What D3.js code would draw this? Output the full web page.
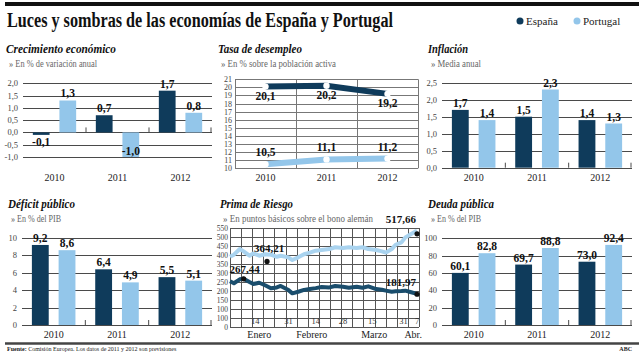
<!DOCTYPE html>
<html><head><meta charset="utf-8">
<script src="https://cdn.jsdelivr.net/npm/d3@7"></script>
<style>body{margin:0;background:#fff}svg{display:block}</style>
</head><body><svg id="c" width="644" height="362"></svg>
<script>
// ---------- DATA ----------
const years = ["2010", "2011", "2012"];
const series = ["España", "Portugal"];

const crecEsp = [-0.1, 0.7, 1.7];
const crecPor = [1.3, -1.0, 0.8];
const crecTicks = [-1.0, -0.5, 0.0, 0.5, 1.0, 1.5, 2.0];

const paroEsp = [20.1, 20.2, 19.2];
const paroPor = [10.5, 11.1, 11.2];
const paroTicks = [10, 11, 12, 13, 14, 15, 16, 17, 18, 19, 20, 21];

const inflEsp = [1.7, 1.5, 1.4];
const inflPor = [1.4, 2.3, 1.3];
const inflTicks = [0.0, 0.5, 1.0, 1.5, 2.0, 2.5];

const defEsp = [9.2, 6.4, 5.5];
const defPor = [8.6, 4.9, 5.1];
const defTicks = [0, 2, 4, 6, 8, 10];

const deudaEsp = [60.1, 69.7, 73.0];
const deudaPor = [82.8, 88.8, 92.4];
const deudaTicks = [0, 20, 40, 60, 80, 100];

const primaDates = ["2011-01-01","2011-01-03","2011-01-06","2011-01-08","2011-01-11","2011-01-13","2011-01-16","2011-01-19","2011-01-22","2011-01-25","2011-01-27","2011-01-31","2011-02-02","2011-02-05","2011-02-08","2011-02-11","2011-02-14","2011-02-17","2011-02-21","2011-02-24","2011-02-28","2011-03-03","2011-03-07","2011-03-10","2011-03-13","2011-03-17","2011-03-20","2011-03-22","2011-03-25","2011-03-27","2011-03-30","2011-04-01","2011-04-04","2011-04-06","2011-04-07"];
const primaPor = [390,402,433,420,396,409,396,404,402,390,396,387,372,387,404,413,424,428,433,443,439,443,439,443,433,428,420,413,433,457,470,498,517,530,535];
const primaEsp = [254,243,265,268,250,239,246,232,215,220,228,205,187,196,206,211,216,222,220,228,224,218,224,218,226,211,207,202,196,198,200,202,193,187,182];
const primaTicks = [0, 50, 100, 150, 200, 250, 300, 350, 400, 450, 500, 550];
const primaTickLabels = ["0", "100", "100", "150", "200", "250", "300", "350", "400", "450", "500", "550"];
const primaDayDates = ["2011-01-14","2011-01-31","2011-02-14","2011-02-28","2011-03-15","2011-03-31","2011-04-07"];
const primaDayLabels = ["14", "31", "14", "28", "15", "31", "7"];
const primaMonthDates = ["2011-01-16","2011-02-12","2011-03-16","2011-04-05"];
const primaMonthLabels = ["Enero", "Febrero", "Marzo", "Abr."];
const primaMarkDates = ["2011-01-08","2011-01-20","2011-04-07","2011-04-07"];
const primaMarkValues = [267.44, 364.21, 517.66, 181.97];

// ---------- STYLE ----------
const C_ESP = "#0f3b5b", C_POR = "#93c6ea";
const SERIF = "'Liberation Serif', 'DejaVu Serif', serif";
const GRID = "#4a4a4a";
const loc = d3.formatLocale({decimal: ",", thousands: ".", grouping: [3], currency: ["", "€"], minus: "-"});
const f1 = loc.format(".1f"), f0 = loc.format(".0f"), f2 = loc.format(".2f");
const parse = d3.utcParse("%Y-%m-%d");

const svg = d3.select("#c");
svg.append("rect").attr("width", 644).attr("height", 362).attr("fill", "#fff");

function fit(sel, w) { return sel.attr("textLength", w).attr("lengthAdjust", "spacingAndGlyphs"); }

// header
svg.append("rect").attr("x", 5).attr("y", 2).attr("width", 634).attr("height", 4).attr("fill", "#111");
fit(svg.append("text").attr("x", 7).attr("y", 27).attr("font-family", SERIF).attr("font-size", 20)
  .attr("font-weight", "bold").attr("fill", "#111").text("Luces y sombras de las economías de España y Portugal"), 386);
const legX = [520, 577];
series.forEach((s, i) => {
  svg.append("circle").attr("cx", legX[i]).attr("cy", 21).attr("r", 3.5).attr("fill", i ? C_POR : C_ESP);
  svg.append("text").attr("x", legX[i] + 6).attr("y", 25).attr("font-family", SERIF).attr("font-size", 11)
    .attr("fill", "#222").text(s);
});

function panelHead(x, y, title, tw, sub, sw) {
  fit(svg.append("text").attr("x", x).attr("y", y).attr("font-family", SERIF).attr("font-size", 13.5)
    .attr("font-weight", "bold").attr("font-style", "italic").attr("fill", "#111").text(title), tw);
  fit(svg.append("text").attr("x", x + 3).attr("y", y + 13.5).attr("font-family", SERIF).attr("font-size", 9.5)
    .attr("fill", "#666").text("» " + sub), sw);
}

function barPanel(cfg) {
  const g = svg.append("g");
  const x = d3.scaleBand().domain(years).range([cfg.x0, cfg.x1]);
  const xi = d3.scaleBand().domain(series).range([0, x.bandwidth()]).paddingInner(0.37).paddingOuter(0.37);
  const y = d3.scaleLinear().domain(cfg.domain).range([cfg.yBot, cfg.yTop]);
  g.selectAll(".gl").data(cfg.ticks).join("line")
    .attr("x1", cfg.x0).attr("x2", cfg.x1).attr("y1", d => Math.round(y(d)) + 0.5).attr("y2", d => Math.round(y(d)) + 0.5)
    .attr("stroke", GRID).attr("stroke-width", 1);
  g.selectAll(".tl").data(cfg.ticks).join("text")
    .attr("x", cfg.x0 - 5).attr("y", d => y(d) + 3).attr("text-anchor", "end")
    .attr("font-family", SERIF).attr("font-size", 8.5).attr("fill", "#444").text(cfg.fmt);
  const data = years.flatMap((yr, i) => [{yr, s: "España", v: cfg.esp[i]}, {yr, s: "Portugal", v: cfg.por[i]}]);
  g.selectAll(".bar").data(data).join("rect")
    .attr("x", d => x(d.yr) + xi(d.s)).attr("width", xi.bandwidth())
    .attr("y", d => y(Math.max(0, d.v))).attr("height", d => Math.abs(y(d.v) - y(0)))
    .attr("fill", d => d.s === "España" ? C_ESP : C_POR);
  g.selectAll(".bt").data(years.slice(1).map(yr => x(yr)).concat([cfg.x1 - 1])).join("line")
    .attr("x1", d => d).attr("x2", d => d).attr("y1", y(0)).attr("y2", y(0) - 5)
    .attr("stroke", GRID).attr("stroke-width", 1);
  g.selectAll(".vl").data(data).join("text")
    .attr("x", d => x(d.yr) + xi(d.s) + xi.bandwidth() / 2)
    .attr("y", d => d.v >= 0 ? y(d.v) - 3 : Math.min(y(d.v) + 11, cfg.yBot - 2))
    .attr("text-anchor", "middle").attr("font-family", SERIF).attr("font-size", 11.5).attr("font-weight", "bold")
    .attr("fill", "#111").text(d => f1(d.v));
  g.selectAll(".yl").data(years).join("text")
    .attr("x", d => x(d) + x.bandwidth() / 2).attr("y", cfg.yearY).attr("text-anchor", "middle")
    .attr("font-family", SERIF).attr("font-size", 10).attr("fill", "#222").text(d => d);
}

panelHead(6, 53, "Crecimiento económico", 110, "En % de variación anual", 88);
barPanel({x0: 23, x1: 212, yTop: 83.3, yBot: 157, domain: [-1, 2], ticks: crecTicks, fmt: f1,
  esp: crecEsp, por: crecPor, yearY: 181});

panelHead(428, 53, "Inflación", 40, "Media anual", 50);
barPanel({x0: 442, x1: 632, yTop: 82.7, yBot: 167.7, domain: [0, 2.5], ticks: inflTicks, fmt: f1,
  esp: inflEsp, por: inflPor, yearY: 181});

panelHead(8, 208, "Déficit público", 67, "En % del PIB", 50);
barPanel({x0: 22, x1: 212, yTop: 238, yBot: 325, domain: [0, 10], ticks: defTicks, fmt: f0,
  esp: defEsp, por: defPor, yearY: 338});

panelHead(428, 208, "Deuda pública", 66, "En % del PIB", 50);
barPanel({x0: 442, x1: 632, yTop: 238.3, yBot: 325, domain: [0, 100], ticks: deudaTicks, fmt: f0,
  esp: deudaEsp, por: deudaPor, yearY: 338});

panelHead(218, 53, "Tasa de desempleo", 84, "En % sobre la población activa", 115);
(function () {
  const g = svg.append("g");
  const x0 = 235, x1 = 418;
  const x = d3.scaleBand().domain(years).range([x0, x1]);
  const y = d3.scaleLinear().domain([10, 21]).range([168.3, 79.3]);
  g.selectAll(".h").data(paroTicks).join("line").attr("x1", x0).attr("x2", x1)
    .attr("y1", d => Math.round(y(d)) + 0.5).attr("y2", d => Math.round(y(d)) + 0.5).attr("stroke", "#777");
  g.selectAll(".v").data(years.map(d => x(d)).concat([x1])).join("line")
    .attr("x1", d => Math.round(d) + 0.5).attr("x2", d => Math.round(d) + 0.5)
    .attr("y1", y(21)).attr("y2", y(10)).attr("stroke", "#777");
  g.selectAll(".tl").data(paroTicks).join("text").attr("x", x0 - 3).attr("y", d => y(d) + 3)
    .attr("text-anchor", "end").attr("font-family", SERIF).attr("font-size", 8).attr("fill", "#444").text(d => d);
  const cx = d => x(d) + x.bandwidth() / 2;
  [[paroEsp, C_ESP, 13], [paroPor, C_POR, -8]].forEach(([vals, col, dy]) => {
    const pts = years.map((yr, i) => [cx(yr), y(vals[i])]);
    g.append("path").attr("d", d3.line()(pts)).attr("fill", "none").attr("stroke", col).attr("stroke-width", 6);
    g.selectAll(null).data(pts).join("circle").attr("cx", d => d[0]).attr("cy", d => d[1]).attr("r", 3.2).attr("fill", "#fff");
    g.selectAll(null).data(years).join("text").attr("x", d => cx(d)).attr("y", (d, i) => y(vals[i]) + dy)
      .attr("text-anchor", "middle").attr("font-family", SERIF).attr("font-size", 11.5).attr("font-weight", "bold")
      .attr("fill", "#111").text((d, i) => f1(vals[i]));
  });
  g.selectAll(".yl").data(years).join("text").attr("x", d => cx(d)).attr("y", 181).attr("text-anchor", "middle")
    .attr("font-family", SERIF).attr("font-size", 10).attr("fill", "#222").text(d => d);
})();

panelHead(220, 208, "Prima de Riesgo", 73, "En puntos básicos sobre el bono alemán", 150);
(function () {
  const g = svg.append("g");
  const x0 = 230, x1 = 419;
  const x = d3.scaleUtc().domain([parse("2011-01-01"), parse("2011-04-08")]).range([x0, x1]);
  const y = d3.scaleLinear().domain([0, 550]).range([327, 228]);
  g.selectAll(".h").data(primaTicks).join("line").attr("x1", x0).attr("x2", x1)
    .attr("y1", d => Math.round(y(d)) + 0.5).attr("y2", d => Math.round(y(d)) + 0.5).attr("stroke", "#555");
  const cols = d3.range(18).map(i => x0 + i * (x1 - x0) / 17);
  g.selectAll(".v").data(cols).join("line").attr("x1", d => Math.round(d) + 0.5).attr("x2", d => Math.round(d) + 0.5)
    .attr("y1", y(550)).attr("y2", y(0)).attr("stroke", "#555");
  g.selectAll(".tl").data(primaTicks).join("text").attr("x", x0 - 2).attr("y", d => y(d) + 3)
    .attr("text-anchor", "end").attr("font-family", SERIF).attr("font-size", 7.5).attr("fill", "#444")
    .text((d, i) => primaTickLabels[i]);
  const line = d3.line().x((d, i) => x(parse(primaDates[i]))).y(d => y(d)).curve(d3.curveLinear);
  g.append("path").attr("d", line(primaPor)).attr("fill", "none").attr("stroke", "#a9d3ef")
    .attr("stroke-width", 4).attr("stroke-linejoin", "round");
  g.append("path").attr("d", line(primaEsp)).attr("fill", "none").attr("stroke", "#1a4d6c")
    .attr("stroke-width", 4).attr("stroke-linejoin", "round");
  const anchors = ["middle", "middle", "end", "end"];
  const ldx = [1, 2, -1, -1], ldy = [-6, -9, -11, -8];
  primaMarkValues.forEach((v, i) => {
    const px = x(parse(primaMarkDates[i])), py = y(v);
    g.append("circle").attr("cx", px).attr("cy", py).attr("r", 2.6).attr("fill", "#111");
    g.append("text").attr("x", px + ldx[i]).attr("y", py + ldy[i]).attr("text-anchor", anchors[i])
      .attr("font-family", SERIF).attr("font-size", 11).attr("font-weight", "bold").attr("fill", "#111").text(f2(v));
  });
  g.selectAll(".dl").data(primaDayDates).join("text").attr("x", d => x(parse(d))).attr("y", 323.5)
    .attr("text-anchor", "middle").attr("font-family", SERIF).attr("font-size", 8.5).attr("fill", "#333")
    .text((d, i) => primaDayLabels[i]);
  g.selectAll(".ml").data(primaMonthDates).join("text").attr("x", d => x(parse(d))).attr("y", 338)
    .attr("text-anchor", "middle").attr("font-family", SERIF).attr("font-size", 10).attr("fill", "#222")
    .text((d, i) => primaMonthLabels[i]);
})();

svg.append("line").attr("x1", 5).attr("x2", 639).attr("y1", 343.5).attr("y2", 343.5).attr("stroke", "#444").attr("stroke-width", 2.5);
const src = svg.append("text").attr("x", 7).attr("y", 351).attr("font-family", SERIF).attr("font-size", 6).attr("fill", "#222");
src.append("tspan").attr("font-weight", "bold").text("Fuente: ");
src.append("tspan").text("Comisión Europea. Los datos de 2011 y 2012 son previsiones");
svg.append("text").attr("x", 632).attr("y", 351).attr("text-anchor", "end").attr("font-family", SERIF)
  .attr("font-size", 6).attr("font-weight", "bold").attr("fill", "#222").text("ABC");
</script>
</body></html>
